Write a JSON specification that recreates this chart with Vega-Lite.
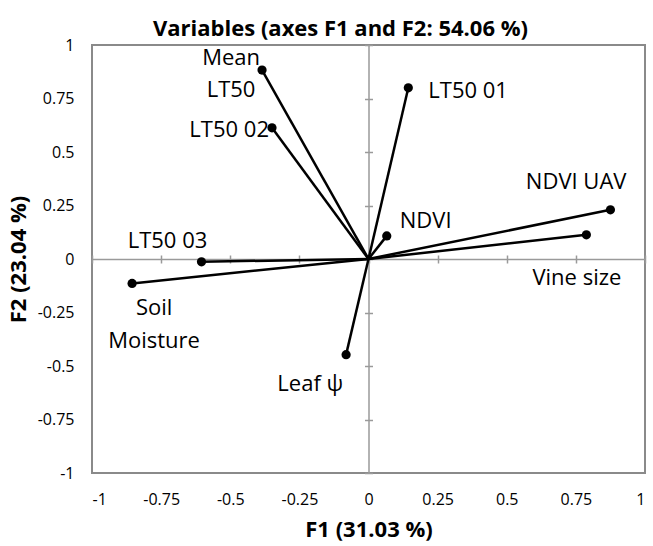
{
  "$schema": "https://vega.github.io/schema/vega-lite/v6.json",
  "width": 553,
  "height": 428,
  "autosize": {"type": "none"},
  "padding": {"left": 92, "top": 45, "right": 8, "bottom": 73},
  "config": {
    "font": "Open Sans",
    "view": {"stroke": "#8a8a8a", "strokeWidth": 2},
    "locale": {"number": {"decimal": ".", "thousands": ",", "grouping": [3], "currency": ["$", ""], "minus": "-"}}
  },
  "title": {
    "text": "Variables (axes F1 and F2: 54.06 %)",
    "fontSize": 22,
    "fontWeight": "bold",
    "color": "black",
    "anchor": "middle",
    "baseline": "alphabetic",
    "offset": -21,
    "dx": -28
  },
  "data": {
    "values": [
      {"variable": "Mean LT50", "label": "Mean\nLT50", "x": -0.385, "y": 0.883, "ox": 0, "oy": 0},
      {"variable": "LT50 02", "label": "LT50 02", "x": -0.349, "y": 0.613, "ox": 0, "oy": 0},
      {"variable": "LT50 03", "label": "LT50 03", "x": -0.604, "y": -0.013, "ox": 0, "oy": 0},
      {"variable": "Soil Moisture", "label": "Soil\nMoisture", "x": -0.855, "y": -0.114, "ox": 0, "oy": 0},
      {"variable": "Leaf ψ", "label": "Leaf ψ", "x": -0.081, "y": -0.447, "ox": 0, "oy": 0},
      {"variable": "LT50 01", "label": "LT50 01", "x": 0.144, "y": 0.8, "ox": 0, "oy": 0},
      {"variable": "NDVI", "label": "NDVI", "x": 0.066, "y": 0.108, "ox": 0, "oy": 0},
      {"variable": "NDVI UAV", "label": "NDVI UAV", "x": 0.875, "y": 0.23, "ox": 0, "oy": 0},
      {"variable": "Vine size", "label": "Vine size", "x": 0.788, "y": 0.113, "ox": 0, "oy": 0}
    ]
  },
  "resolve": {"axis": {"x": "independent", "y": "independent"}},
  "layer": [
    {
      "mark": {"type": "rule", "color": "black", "strokeWidth": 2.5},
      "encoding": {
        "x": {
          "field": "ox", "type": "quantitative",
          "scale": {"domain": [-1, 1], "nice": false, "zero": false},
          "axis": {
            "orient": "bottom",
            "values": [-1, -0.75, -0.5, -0.25, 0, 0.25, 0.5, 0.75, 1],
            "format": ".2~f",
            "domain": false, "ticks": false, "grid": false,
            "labelFontSize": 16, "labelColor": "black", "labelPadding": 18,
            "title": "F1 (31.03 %)", "titleFontSize": 22, "titleFontWeight": "bold",
            "titleColor": "black", "titlePadding": 12
          }
        },
        "y": {
          "field": "oy", "type": "quantitative",
          "scale": {"domain": [-1, 1], "nice": false, "zero": false},
          "axis": {
            "orient": "left",
            "values": [-1, -0.75, -0.5, -0.25, 0, 0.25, 0.5, 0.75, 1],
            "format": ".2~f",
            "domain": false, "ticks": false, "grid": false,
            "labelFontSize": 16, "labelColor": "black", "labelPadding": 18,
            "title": "F2 (23.04 %)", "titleFontSize": 22, "titleFontWeight": "bold",
            "titleColor": "black", "titlePadding": 7
          }
        },
        "x2": {"field": "x"},
        "y2": {"field": "y"}
      }
    },
    {
      "mark": {"type": "point", "filled": true, "color": "black", "size": 85, "opacity": 1},
      "encoding": {
        "x": {
          "field": "x", "type": "quantitative",
          "axis": {
            "orient": "bottom", "offset": -214,
            "values": [-1, -0.75, -0.5, -0.25, 0, 0.25, 0.5, 0.75, 1],
            "labels": false, "title": null, "grid": false,
            "domainColor": "#9a9a9a", "domainWidth": 1.5,
            "tickColor": "#9a9a9a", "tickWidth": 1.5, "tickSize": 4
          }
        },
        "y": {
          "field": "y", "type": "quantitative",
          "axis": {
            "orient": "left", "offset": -276.5,
            "values": [-1, -0.75, -0.5, -0.25, 0, 0.25, 0.5, 0.75, 1],
            "labels": false, "title": null, "grid": false,
            "domainColor": "#9a9a9a", "domainWidth": 1.5,
            "tickColor": "#9a9a9a", "tickWidth": 1.5, "tickSize": 4
          }
        }
      }
    },
    {
      "encoding": {
        "x": {
          "field": "x", "type": "quantitative",
          "axis": {
            "orient": "top", "offset": -214,
            "values": [-1, -0.75, -0.5, -0.25, 0, 0.25, 0.5, 0.75, 1],
            "labels": false, "title": null, "grid": false, "domain": false,
            "tickColor": "#9a9a9a", "tickWidth": 1.5, "tickSize": 4
          }
        },
        "y": {
          "field": "y", "type": "quantitative",
          "axis": {
            "orient": "right", "offset": -276.5,
            "values": [-1, -0.75, -0.5, -0.25, 0, 0.25, 0.5, 0.75, 1],
            "labels": false, "title": null, "grid": false, "domain": false,
            "tickColor": "#9a9a9a", "tickWidth": 1.5, "tickSize": 4
          }
        },
        "text": {"field": "label"}
      },
      "layer": [
        {
          "transform": [{"filter": "datum.variable == 'Mean LT50'"}],
          "mark": {"type": "text", "fontSize": 22, "color": "black", "align": "center", "baseline": "alphabetic", "lineBreak": "\n", "lineHeight": 32, "dx": -31, "dy": -5}
        },
        {
          "transform": [{"filter": "datum.variable == 'LT50 02'"}],
          "mark": {"type": "text", "fontSize": 22, "color": "black", "align": "right", "baseline": "alphabetic", "dx": -3, "dy": 9}
        },
        {
          "transform": [{"filter": "datum.variable == 'LT50 03'"}],
          "mark": {"type": "text", "fontSize": 22, "color": "black", "align": "center", "baseline": "alphabetic", "dx": -34, "dy": -14}
        },
        {
          "transform": [{"filter": "datum.variable == 'Soil Moisture'"}],
          "mark": {"type": "text", "fontSize": 22, "color": "black", "align": "center", "baseline": "alphabetic", "lineBreak": "\n", "lineHeight": 33, "dx": 22, "dy": 32}
        },
        {
          "transform": [{"filter": "datum.variable == 'Leaf ψ'"}],
          "mark": {"type": "text", "fontSize": 22, "color": "black", "align": "right", "baseline": "alphabetic", "dx": -3, "dy": 36}
        },
        {
          "transform": [{"filter": "datum.variable == 'LT50 01'"}],
          "mark": {"type": "text", "fontSize": 22, "color": "black", "align": "left", "baseline": "alphabetic", "dx": 20, "dy": 10}
        },
        {
          "transform": [{"filter": "datum.variable == 'NDVI'"}],
          "mark": {"type": "text", "fontSize": 22, "color": "black", "align": "left", "baseline": "alphabetic", "dx": 13, "dy": -8}
        },
        {
          "transform": [{"filter": "datum.variable == 'NDVI UAV'"}],
          "mark": {"type": "text", "fontSize": 22, "color": "black", "align": "right", "baseline": "alphabetic", "dx": 16, "dy": -21}
        },
        {
          "transform": [{"filter": "datum.variable == 'Vine size'"}],
          "mark": {"type": "text", "fontSize": 22, "color": "black", "align": "right", "baseline": "alphabetic", "dx": 35, "dy": 50}
        }
      ]
    }
  ]
}
